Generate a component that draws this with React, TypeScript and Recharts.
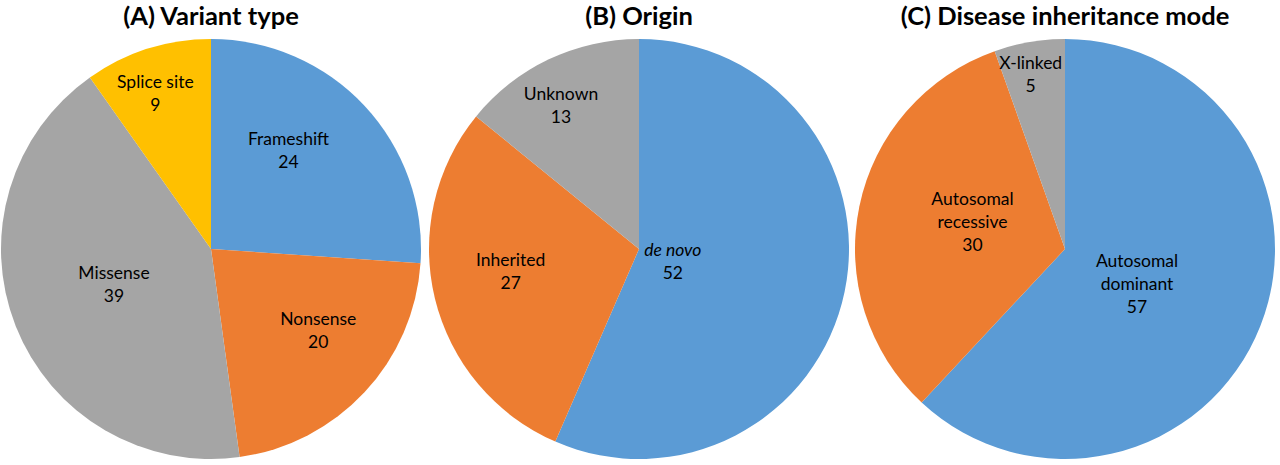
import React from "react";
import { PieChart, Pie, Cell } from "recharts";

const COLORS = ["#5B9BD5", "#ED7D31", "#A5A5A5", "#FFC000"];

// (A) Variant type
const variantNames = ["Frameshift", "Nonsense", "Missense", "Splice site"];
const variantValues = [24, 20, 39, 9];

// (B) Origin
const originNames = ["de novo", "Inherited", "Unknown"];
const originValues = [52, 27, 13];

// (C) Disease inheritance mode
const modeNames = ["Autosomal\ndominant", "Autosomal\nrecessive", "X-linked"];
const modeValues = [57, 30, 5];

const TITLES = ["(A) Variant type", "(B) Origin", "(C) Disease inheritance mode"];

// label placement tweaks (fraction of radius, clockwise angle shift in degrees)
const variantLabelR = [0.6, 0.64, 0.49, 0.79];
const variantLabelShift = [-9, -6, 2, -2];
const originLabelR = [0.17, 0.62, 0.78];
const originLabelShift = [7, 4, -3];
const modeLabelR = [0.38, 0.46, 0.85];
const modeLabelShift = [4, 5, -1.3];

const FONT = "Lato, 'Open Sans', sans-serif";
const RADIAN = Math.PI / 180;
const R = 210;
const CY = 249;
const CENTERS = [211, 639, 1065];

function makeLabel(ratios: number[], shifts: number[], italic: string[] = []) {
  return (props: any) => {
    const { cx, cy, midAngle, outerRadius, index, name, value } = props;
    const r = outerRadius * ratios[index];
    const ang = (midAngle - shifts[index]) * RADIAN;
    const x = cx + r * Math.cos(-ang);
    const y = cy + r * Math.sin(-ang);
    const lines = [...String(name).split("\n"), String(value)];
    const lh = 23;
    const y0 = y - ((lines.length - 1) * lh) / 2;
    return (
      <text
        key={`l-${index}`}
        x={x}
        y={y0}
        textAnchor="middle"
        dominantBaseline="central"
        fontFamily={FONT}
        fontSize={17.5}
        fill="#000"
      >
        {lines.map((t, i) => (
          <tspan
            key={i}
            x={x}
            dy={i === 0 ? 0 : lh}
            fontStyle={italic.includes(t) ? "italic" : "normal"}
          >
            {t}
          </tspan>
        ))}
      </text>
    );
  };
}

const toData = (names: string[], values: number[]) =>
  names.map((name, i) => ({ name, value: values[i] }));

export default function App() {
  const pies = [
    { data: toData(variantNames, variantValues), label: makeLabel(variantLabelR, variantLabelShift) },
    { data: toData(originNames, originValues), label: makeLabel(originLabelR, originLabelShift, ["de novo"]) },
    { data: toData(modeNames, modeValues), label: makeLabel(modeLabelR, modeLabelShift) },
  ];

  return (
    <div style={{ position: "absolute", left: 0, top: 0, width: 1280, height: 465, background: "#fff" }}>
      {TITLES.map((t, i) => (
        <div
          key={t}
          style={{
            position: "absolute",
            left: CENTERS[i] - 250,
            width: 500,
            top: 0,
            textAlign: "center",
            fontFamily: FONT,
            fontWeight: 700,
            fontSize: 25.5,
            lineHeight: "30px",
            color: "#000",
          }}
        >
          {t}
        </div>
      ))}
      <PieChart width={1280} height={465} margin={{ top: 0, right: 0, bottom: 0, left: 0 }}>
        {pies.map((p, pi) => (
          <Pie
            key={pi}
            data={p.data}
            dataKey="value"
            nameKey="name"
            cx={CENTERS[pi]}
            cy={CY}
            outerRadius={R}
            startAngle={90}
            endAngle={-270}
            stroke="none"
            labelLine={false}
            label={p.label}
            isAnimationActive={false}
          >
            {p.data.map((_, idx) => (
              <Cell key={idx} fill={COLORS[idx % COLORS.length]} />
            ))}
          </Pie>
        ))}
      </PieChart>
    </div>
  );
}
